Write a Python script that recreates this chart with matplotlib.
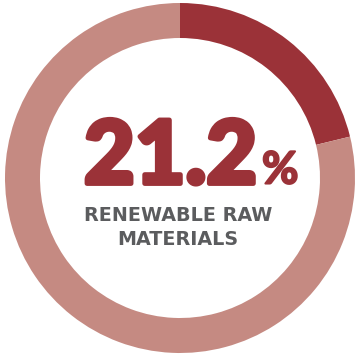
import matplotlib
matplotlib.use('Agg')
from matplotlib import pyplot as plt
from matplotlib import patheffects as pe

labels = ['Renewable raw materials', 'Other']
values = [21.2, 78.8]
colors = ['#9b3238', '#c58a82']
big_text = '21.2'
unit_text = '%'
caption = ['RENEWABLE RAW', 'MATERIALS']

W, H = 357, 356
cx, cy, R = 180, 178, 175  # pixel centre and radius of the ring


def px(x, y):
    # pixel (from top-left) -> data coords where ring radius is 1
    return (x - cx) / R, (cy - y) / R


fig = plt.figure(figsize=(W / 100, H / 100), dpi=100)
ax = fig.add_axes([0, 0, 1, 1])
ax.pie(values, colors=colors, startangle=90, counterclock=False,
       wedgeprops=dict(width=0.2, linewidth=0))
ax.set_xlim(-cx / R, (W - cx) / R)
ax.set_ylim(-(H - cy) / R, cy / R)
ax.axis('off')

thick = [pe.withStroke(linewidth=3.5, foreground=colors[0])]
x, y = px(84, 183.5)
ax.text(x, y, big_text, ha='left', va='baseline', fontsize=63,
        fontfamily='Lato', fontweight='black', color=colors[0],
        path_effects=thick)
x, y = px(262, 183.5)
ax.text(x, y, unit_text, ha='left', va='baseline', fontsize=32,
        fontfamily='Lato', fontweight='bold', color=colors[0],
        path_effects=[pe.withStroke(linewidth=1.5, foreground=colors[0])])
for line, base in zip(caption, [221, 245]):
    x, y = px(178, base)
    ax.text(x, y, line, ha='center', va='baseline', fontsize=13.8,
            fontfamily='DejaVu Sans', fontweight='bold', color='#5b5c5e')

fig.savefig('out.png', dpi=100)
